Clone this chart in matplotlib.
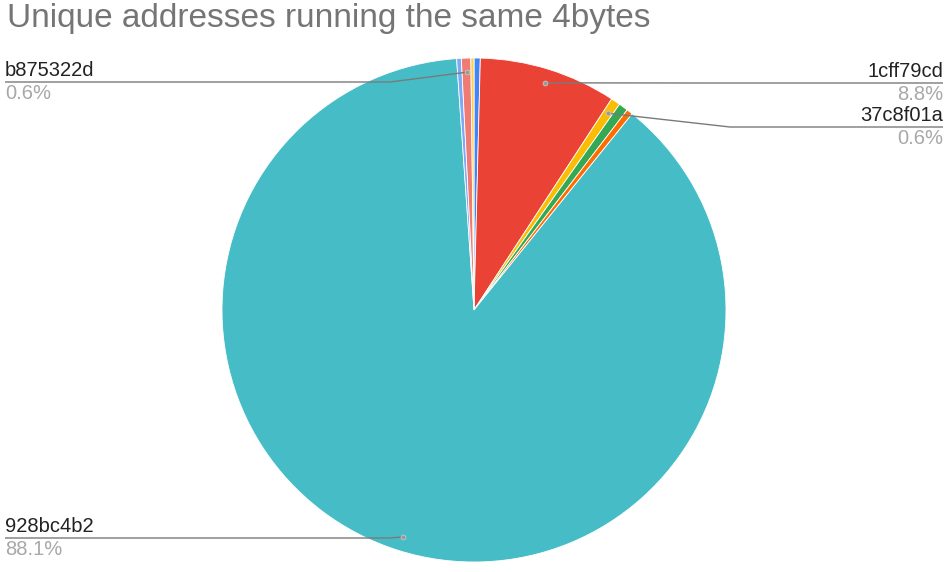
import matplotlib.pyplot as plt
import numpy as np

plt.rcParams['font.family'] = ['Liberation Sans', 'DejaVu Sans']

# slices in clockwise order from 12 o'clock
names = ['', '1cff79cd', '37c8f01a', '', '', '928bc4b2', '', 'b875322d', '']
shares = [0.4, 8.8, 0.6, 0.6, 0.4, 88.1, 0.3, 0.6, 0.2]
colors = ['#4285F4', '#EA4335', '#FBBC04', '#34A853', '#FF6D01',
          '#46BDC6', '#7BAAF7', '#F07B72', '#FCD04F']

W, H = 950, 572
fig = plt.figure(figsize=(W / 100, H / 100), dpi=100)
ax = fig.add_axes([0, 0, 1, 1])

cx, cy, R = 474, 262, 252
wedges, _ = ax.pie(shares, colors=colors, startangle=90, counterclock=False,
                   center=(cx, cy), radius=R, frame=True,
                   wedgeprops=dict(edgecolor='white', linewidth=0.6))
ax.set_xlim(0, W)
ax.set_ylim(0, H)
ax.set_aspect('equal')
ax.axis('off')

fig.text(7 / W, 1 - 19 / H, 'Unique addresses running the same 4bytes',
         fontsize=24, color='#757575', va='center', ha='left')


def anchor(i):
    w = wedges[i]
    a = np.deg2rad((w.theta1 + w.theta2) / 2)
    return cx + 0.944 * R * np.cos(a), cy + 0.944 * R * np.sin(a)


# (slice index, side, line y in px, elbow x)
callouts = [(7, 'left', 82, 390), (1, 'right', 83, 700),
            (2, 'right', 127, 730), (5, 'left', 538, 390)]
for i, side, ly, ex in callouts:
    px, py = anchor(i)
    yl = H - ly
    if side == 'left':
        xs = [5, ex, px]
        tx, ha = 5, 'left'
    else:
        xs = [943, ex, px]
        tx, ha = 943, 'right'
    ax.plot(xs, [yl, yl, py], color='#7a7a7a', lw=1, solid_capstyle='butt')
    ax.plot(px, py, 'o', ms=3.5, color='#9a9a9a', mec='#cfcfcf', mew=0.5)
    ax.text(tx, yl + 6, names[i], fontsize=14.5, color='#222222',
            ha=ha, va='baseline')
    ax.text(tx, yl - 2, '{:.1f}%'.format(shares[i]), fontsize=14.5,
            color='#a8a8a8', ha=ha, va='top')

fig.savefig('out.png', dpi=100)
